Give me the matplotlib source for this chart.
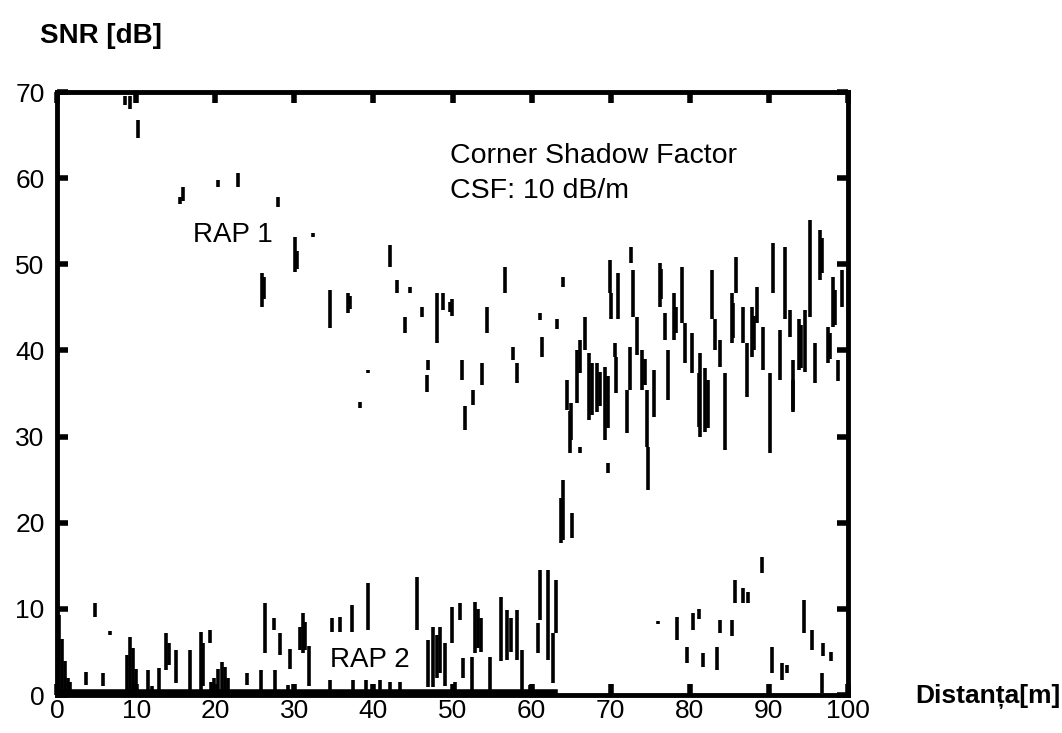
import matplotlib
matplotlib.use("Agg")
import matplotlib.pyplot as plt

plt.rcParams['font.family'] = ['Liberation Sans', 'DejaVu Sans']

# RAP 1 samples: distance [m], SNR low, SNR high [dB]
rap1_x = [8.6, 9.2, 10.2, 15.5, 15.9, 20.3, 22.9, 25.9, 26.2, 27.9,
          30.1, 30.4, 32.4, 34.5, 36.8, 37.1, 38.3, 39.3, 42.1, 43.0,
          44.0, 44.6, 46.1, 46.8, 46.9, 48.0, 48.8, 49.7, 49.9, 51.2,
          51.6, 52.6, 53.7, 54.4, 56.6, 57.6, 58.2, 61.0, 61.3, 63.2,
          64.0, 64.5, 64.8, 65.0, 65.7, 66.1, 66.1, 66.8, 67.3, 67.6,
          68.3, 68.6, 69.3, 69.6, 69.7, 69.9, 70.0, 70.5, 70.7, 70.9,
          72.1, 72.4, 72.6, 72.8, 73.3, 73.9, 74.3, 74.6, 74.7, 75.5,
          76.2, 76.4, 76.9, 77.2, 78.0, 78.3, 79.0, 79.4, 80.3, 81.2,
          81.3, 81.9, 82.3, 82.8, 83.2, 83.8, 84.5, 85.3, 85.5, 85.8,
          86.7, 87.2, 87.9, 88.1, 88.5, 89.3, 90.1, 90.5, 91.4, 92.0,
          92.7, 93.0, 93.1, 93.8, 94.1, 94.6, 95.2, 95.8, 96.5, 96.7,
          97.5, 97.7, 98.1, 98.3, 98.7, 99.2]
rap1_lo = [68.5, 68.0, 64.7, 57.0, 57.3, 59.0, 59.0, 45.0, 46.0, 56.6,
           49.1, 49.5, 53.2, 42.6, 44.4, 44.8, 33.3, 37.4, 49.7, 46.7,
           42.0, 46.7, 43.9, 35.2, 37.7, 40.9, 44.7, 44.5, 44.0, 36.6,
           30.8, 33.7, 36.0, 42.0, 46.7, 38.9, 36.2, 43.5, 39.3, 42.5,
           47.4, 33.1, 28.1, 29.6, 33.9, 37.4, 28.1, 40.1, 31.9, 32.5,
           32.8, 33.5, 29.6, 31.0, 25.8, 46.7, 43.6, 39.3, 35.1, 43.6,
           30.4, 35.4, 50.2, 43.9, 39.5, 35.4, 36.0, 28.8, 23.8, 32.3,
           45.0, 46.0, 41.2, 34.3, 41.2, 42.0, 43.2, 38.6, 37.4, 31.1,
           30.0, 30.5, 31.0, 43.6, 40.1, 38.1, 28.5, 40.9, 41.5, 46.7,
           40.9, 34.6, 39.3, 40.0, 43.2, 37.7, 28.1, 46.7, 36.6, 43.6,
           41.6, 32.8, 33.1, 37.7, 38.0, 37.5, 43.9, 36.2, 48.2, 49.0,
           38.6, 39.0, 42.7, 43.0, 36.5, 45.0]
rap1_hi = [69.5, 69.5, 66.8, 57.8, 59.0, 59.8, 60.6, 49.0, 48.5, 57.8,
           53.2, 51.5, 53.6, 47.0, 46.7, 46.3, 34.0, 37.7, 52.3, 48.2,
           43.9, 47.4, 45.0, 37.2, 38.9, 46.7, 46.7, 45.6, 46.0, 38.9,
           33.5, 35.4, 38.6, 45.0, 49.7, 40.4, 38.5, 44.4, 41.6, 43.6,
           48.5, 36.6, 33.0, 33.9, 40.1, 41.2, 28.8, 43.9, 39.7, 38.5,
           38.6, 37.5, 38.1, 37.0, 26.9, 50.5, 46.7, 40.9, 39.3, 49.0,
           35.4, 40.4, 52.0, 49.4, 43.9, 40.0, 39.0, 35.4, 28.8, 37.7,
           50.2, 49.5, 44.4, 40.1, 46.7, 45.0, 49.7, 43.2, 42.0, 37.4,
           39.7, 38.0, 36.6, 49.4, 43.6, 41.2, 37.4, 46.7, 45.5, 50.9,
           45.1, 40.9, 45.1, 44.0, 47.4, 42.7, 37.4, 52.5, 42.4, 52.0,
           44.7, 36.6, 38.9, 43.6, 43.0, 44.7, 55.2, 40.9, 54.0, 53.0,
           42.7, 42.0, 48.5, 47.0, 38.9, 49.4]

# RAP 2 samples
rap2_x = [0.2, 0.6, 1.0, 1.4, 1.7, 3.7, 4.8, 5.8, 6.7, 8.8,
          9.2, 9.6, 10.0, 11.5, 12.0, 12.9, 13.8, 14.1, 15.0, 16.8,
          18.2, 18.5, 19.3, 19.5, 19.9, 20.3, 20.8, 21.2, 21.6, 24.0,
          25.8, 26.3, 27.4, 27.5, 28.2, 29.2, 29.5, 30.7, 31.1, 31.4,
          31.9, 34.5, 34.8, 35.8, 37.3, 37.4, 39.1, 39.3, 40.8, 42.1,
          43.4, 45.5, 46.9, 47.5, 48.0, 48.4, 49.0, 49.9, 50.3, 50.9,
          51.3, 52.5, 52.8, 53.2, 53.6, 54.7, 56.1, 56.9, 57.4, 58.2,
          58.8, 59.8, 60.8, 61.0, 62.1, 62.7, 63.1, 63.7, 64.0, 65.1,
          76.0, 78.4, 79.6, 80.4, 81.2, 81.7, 83.4, 83.8, 85.3, 85.7,
          86.7, 87.4, 89.1, 90.4, 91.7, 92.3, 94.4, 95.4, 96.7, 96.8,
          97.8]
rap2_lo = [0.0, 0.0, 0.0, 0.0, 0.3, 1.2, 9.1, 1.0, 7.0, 0.2,
           0.2, 0.2, 0.2, 0.2, 0.2, 0.2, 2.9, 3.5, 1.4, 0.2,
           0.6, 1.0, 6.0, 0.2, 0.2, 0.2, 0.2, 0.2, 0.2, 1.2,
           0.2, 4.9, 7.5, 0.2, 4.6, 0.2, 3.0, 5.2, 4.9, 5.2,
           1.0, 0.2, 7.3, 7.3, 7.3, 0.2, 0.2, 7.5, 0.2, 0.2,
           0.2, 7.5, 0.9, 0.9, 2.0, 2.6, 1.0, 6.0, 0.0, 8.7,
           2.0, 0.2, 4.9, 5.5, 5.0, 0.6, 4.0, 4.1, 5.0, 4.1,
           0.6, 0.0, 4.9, 8.7, 4.1, 1.4, 7.2, 17.7, 18.0, 18.2,
           8.2, 6.4, 3.7, 7.5, 8.8, 3.3, 2.9, 7.2, 6.8, 10.7,
           10.7, 10.7, 14.2, 2.6, 1.7, 2.5, 7.2, 5.2, 0.2, 4.5,
           4.0]
rap2_hi = [9.3, 6.5, 4.0, 2.0, 1.5, 2.7, 10.7, 2.5, 7.4, 4.6,
           6.7, 5.5, 3.0, 2.9, 1.0, 3.1, 7.2, 6.0, 5.2, 5.2,
           7.3, 6.0, 7.5, 1.5, 2.0, 3.0, 3.8, 3.2, 2.0, 2.5,
           2.9, 10.7, 9.0, 2.9, 7.2, 1.2, 5.4, 7.9, 9.5, 8.5,
           5.7, 1.8, 8.9, 9.1, 10.5, 1.8, 1.8, 13.0, 1.8, 1.5,
           1.5, 13.7, 6.4, 7.9, 7.0, 7.9, 6.0, 10.2, 1.5, 10.7,
           4.3, 4.4, 10.8, 10.0, 9.0, 4.4, 11.4, 9.9, 9.0, 9.9,
           5.2, 1.2, 8.4, 14.5, 14.5, 7.2, 13.4, 22.9, 25.0, 21.1,
           8.6, 9.1, 5.6, 9.5, 10.0, 4.9, 5.6, 8.7, 8.7, 13.4,
           12.4, 12.0, 16.0, 5.6, 3.7, 3.5, 11.0, 7.5, 2.6, 6.0,
           5.0]
# RAP 2 floor level along the bottom
rap2_floor_x = [0, 63]
rap2_floor_y = [0.3, 0.3]

x_ticks = [0, 10, 20, 30, 40, 50, 60, 70, 80, 90, 100]
y_ticks = [0, 10, 20, 30, 40, 50, 60, 70]

fig = plt.figure(figsize=(10.62, 7.33), dpi=100)
ax = fig.add_axes([0.0537, 0.0518, 0.7448, 0.8226])

ax.vlines(rap1_x, rap1_lo, rap1_hi, colors='black', linewidth=2.6)
ax.vlines(rap2_x, rap2_lo, rap2_hi, colors='black', linewidth=2.6)
ax.plot(rap2_floor_x, rap2_floor_y, color='black', linewidth=4)

ax.set_xlim(0, 100)
ax.set_ylim(0, 70)
ax.set_xticks(x_ticks)
ax.set_yticks(y_ticks)
for s in ax.spines.values():
    s.set_linewidth(3.5)
ax.tick_params(direction='in', length=8, width=4, top=True, right=True,
               labelsize=19)
ax.tick_params(axis='x', pad=3)
ax.tick_params(axis='y', pad=9)

ax.text(49.7, 61.8, "Corner Shadow Factor", fontsize=20.5, va='baseline')
ax.text(49.7, 57.7, "CSF: 10 dB/m", fontsize=20.5, va='baseline')
ax.text(17.2, 52.6, "RAP 1", fontsize=20, va='baseline')
ax.text(34.5, 3.25, "RAP 2", fontsize=20, va='baseline')

fig.text(0.0377, 0.941, "SNR [dB]", fontsize=20, fontweight='bold', va='baseline')
fig.text(0.8616, 0.041, "Distanța[m]", fontsize=19, fontweight='bold', va='baseline')

fig.savefig("out.png", dpi=100)
